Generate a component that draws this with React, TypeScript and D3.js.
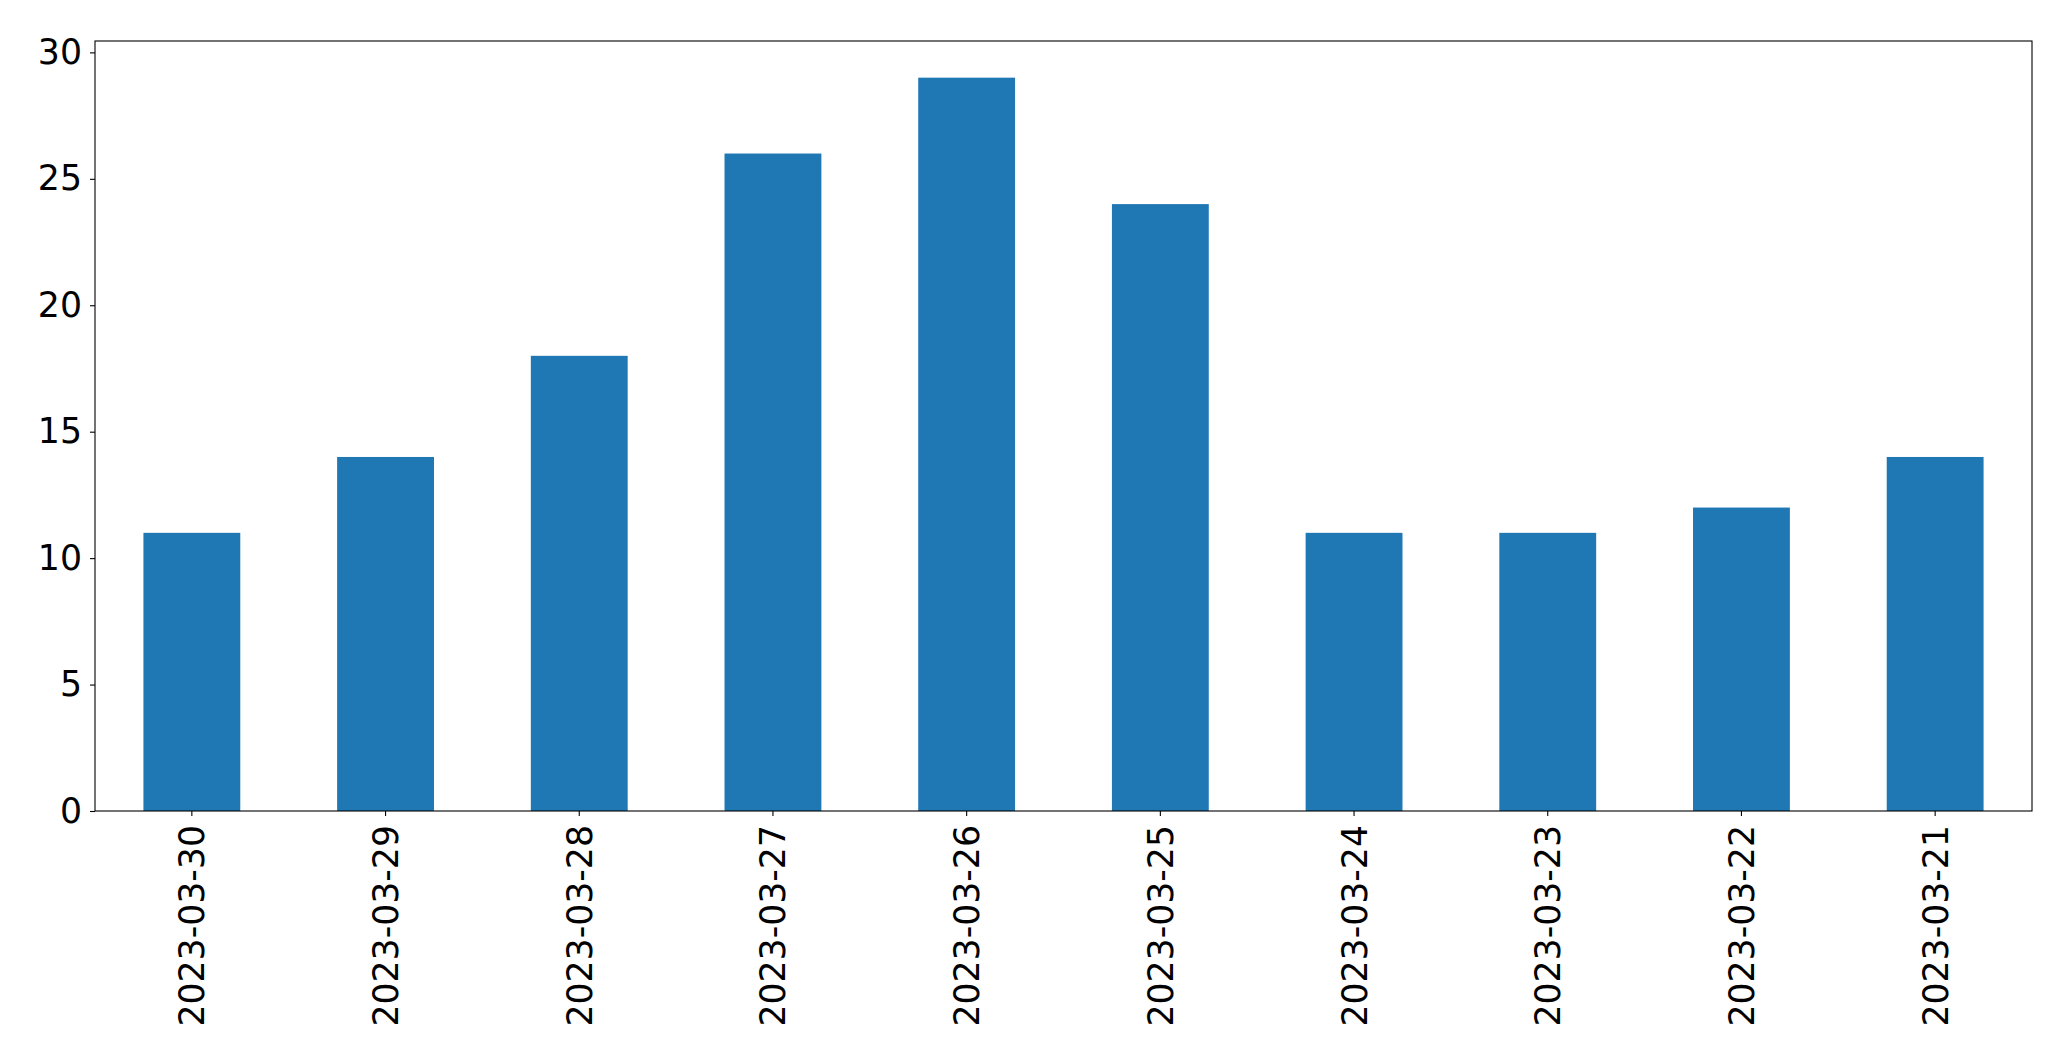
import React, { useEffect, useRef } from "react";
import * as d3 from "d3";

const dates = [
  "2023-03-30", "2023-03-29", "2023-03-28", "2023-03-27", "2023-03-26",
  "2023-03-25", "2023-03-24", "2023-03-23", "2023-03-22", "2023-03-21",
];
const counts = [11, 14, 18, 26, 29, 24, 11, 11, 12, 14];
const yTicks = [0, 5, 10, 15, 20, 25, 30];

const W = 2071, H = 1063;
const margin = { top: 41, right: 39, bottom: 252, left: 95 };
const FONT = "'DejaVu Sans', sans-serif";
const FS = "34.7px";

export default function App() {
  const ref = useRef<SVGSVGElement>(null);

  useEffect(() => {
    document.body.style.margin = "0";
    const svg = d3.select(ref.current);
    svg.selectAll("*").remove();

    const x0 = margin.left, x1 = W - margin.right;
    const y0 = H - margin.bottom, y1 = margin.top;

    const x = d3.scaleBand().domain(dates).range([x0, x1]).paddingInner(0.5).paddingOuter(0.25);
    const y = d3.scaleLinear().domain([0, d3.max(counts)! * 1.05]).range([y0, y1]);

    // bars
    svg.append("g")
      .selectAll("rect")
      .data(dates)
      .enter()
      .append("rect")
      .attr("x", d => x(d)!)
      .attr("width", x.bandwidth())
      .attr("y", (d, i) => y(counts[i]))
      .attr("height", (d, i) => y(0) - y(counts[i]))
      .style("fill", "#1f77b4");

    // y axis
    const yAxis = svg.append("g")
      .attr("transform", `translate(${x0}, 0)`)
      .call(d3.axisLeft(y).tickValues(yTicks).tickFormat(d3.format("d")).tickSize(5).tickPadding(8));
    yAxis.select(".domain").remove();
    yAxis.selectAll("line").attr("stroke", "#000").attr("stroke-width", 1.1);
    yAxis.selectAll("text")
      .attr("fill", "#000")
      .style("font-family", FONT)
      .style("font-size", FS);

    // x axis
    const xAxis = svg.append("g")
      .attr("transform", `translate(0, ${y0})`)
      .call(d3.axisBottom(x).tickSize(5).tickPadding(0));
    xAxis.select(".domain").remove();
    xAxis.selectAll("line").attr("stroke", "#000").attr("stroke-width", 1.1);
    xAxis.selectAll("text")
      .attr("fill", "#000")
      .attr("y", 0)
      .attr("dy", "0.36em")
      .attr("transform", "translate(0, 14) rotate(-90)")
      .attr("text-anchor", "end")
      .style("font-family", FONT)
      .style("font-size", FS);

    // frame
    svg.append("rect")
      .attr("x", x0)
      .attr("y", y1)
      .attr("width", x1 - x0)
      .attr("height", y0 - y1)
      .attr("fill", "none")
      .attr("stroke", "#000")
      .attr("stroke-width", 1.1);
  }, []);

  return (
    <svg ref={ref} width={W} height={H} style={{ display: "block", background: "#fff" }}></svg>
  );
}
